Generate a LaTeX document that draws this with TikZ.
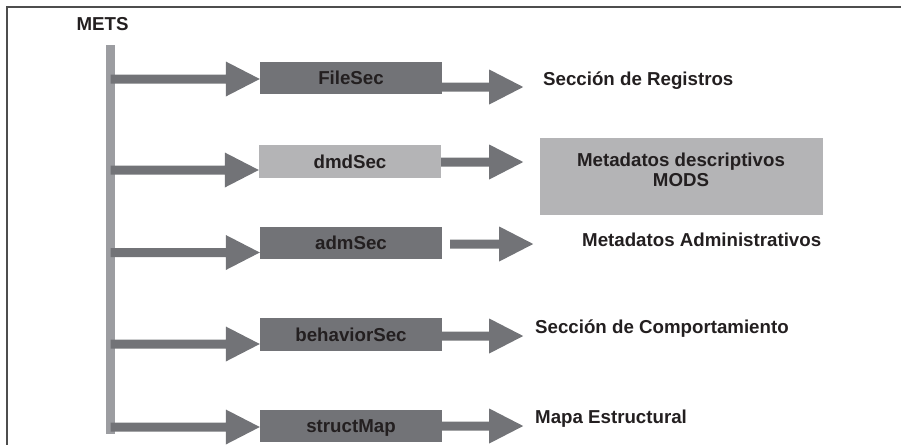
\documentclass[tikz,border=0pt]{standalone}
\usepackage{fontspec}
\setmainfont{Liberation Sans}
\usetikzlibrary{calc}
\definecolor{dkgray}{HTML}{727377}
\definecolor{bargray}{HTML}{9C9DA1}
\definecolor{ltgray}{HTML}{B4B4B6}
\definecolor{txtc}{HTML}{231F20}
\definecolor{framec}{HTML}{4D4D4D}
\newcommand{\fatarrow}[2]{%
  \fill[dkgray] ($(#1)+(0,-4.5)$) -- ($(#2)+(-34,-4.5)$) -- ($(#2)+(-34,-17.5)$) -- (#2)
    -- ($(#2)+(-34,17.5)$) -- ($(#2)+(-34,4.5)$) -- ($(#1)+(0,4.5)$) -- cycle;}
\begin{document}
\begin{tikzpicture}[x=1pt,y=-1pt,
  font=\fontsize{18.7}{20}\selectfont\bfseries,
  secbox/.style={rectangle, minimum width=182pt, minimum height=32.5pt, inner sep=0pt,
    fill=#1, text=txtc, text height=13.4pt, text depth=0pt},
  lbl/.style={anchor=base west, inner sep=0pt, text=txtc}]
\useasboundingbox (0,0) rectangle (901,445);
% frame
\draw[framec, line width=1.5pt] (901,7) -- (7,7) -- (7,445);
% title
\node[anchor=base, inner sep=0pt, text=txtc] (mets) at (102.5,30) {METS};
% vertical bar
\node[fill=bargray, minimum width=9pt, minimum height=389pt, inner sep=0pt] (bar) at (110.5,239.5) {};
% section boxes
\node[secbox=dkgray] (b1) at (351,78) {FileSec};
\node[secbox=ltgray] (b2) at (350,161.5) {dmdSec};
\node[secbox=dkgray] (b3) at (351,243) {admSec};
\node[secbox=dkgray] (b4) at (351,334.5) {behaviorSec};
\node[secbox=dkgray] (b5) at (351,426) {structMap};
% MODS box
\node[fill=ltgray, minimum width=283pt, minimum height=77pt, inner sep=0pt] (mods) at (681.5,176.5) {};
\node[align=center, inner sep=0pt, text=txtc, anchor=base] (modstxt) at (681,186.7)
  {Metadatos descriptivos\\MODS};
% labels
\node[lbl] (t1) at (543,85) {Sección de Registros};
\node[lbl] (t3) at (582,246.5) {Metadatos Administrativos};
\node[lbl] (t4) at (535,333) {Sección de Comportamiento};
\node[lbl] (t5) at (535,423) {Mapa Estructural};
% left arrow tips
\coordinate (l1) at ([yshift=-1pt]b1.west);
\coordinate (l2) at ([yshift=-8.5pt]b2.west);
\coordinate (l3) at ([yshift=-9.5pt]b3.west);
\coordinate (l4) at ([yshift=-9.5pt]b4.west);
\coordinate (l5) at ([yshift=-1pt]b5.west);
\foreach \i in {1,...,5}{
  \coordinate (o\i) at (bar.center |- l\i);
  \fatarrow{o\i}{l\i}
}
% right arrows
\coordinate (s1) at ([yshift=-9pt]b1.east);
\coordinate (r1) at ([xshift=81pt]s1);
\coordinate (s2) at ([yshift=-0.5pt]b2.east);
\coordinate (r2) at ([xshift=82pt]s2);
\coordinate (s3) at ([xshift=8pt,yshift=-1pt]b3.east);
\coordinate (r3) at ([xshift=83pt]s3);
\coordinate (s4) at ([yshift=-1.5pt]b4.east);
\coordinate (r4) at ([xshift=81pt]s4);
\coordinate (s5) at (b5.east);
\coordinate (r5) at ([xshift=81pt]s5);
\foreach \i in {1,...,5}{
  \fatarrow{s\i}{r\i}
}
\end{tikzpicture}
\end{document}
